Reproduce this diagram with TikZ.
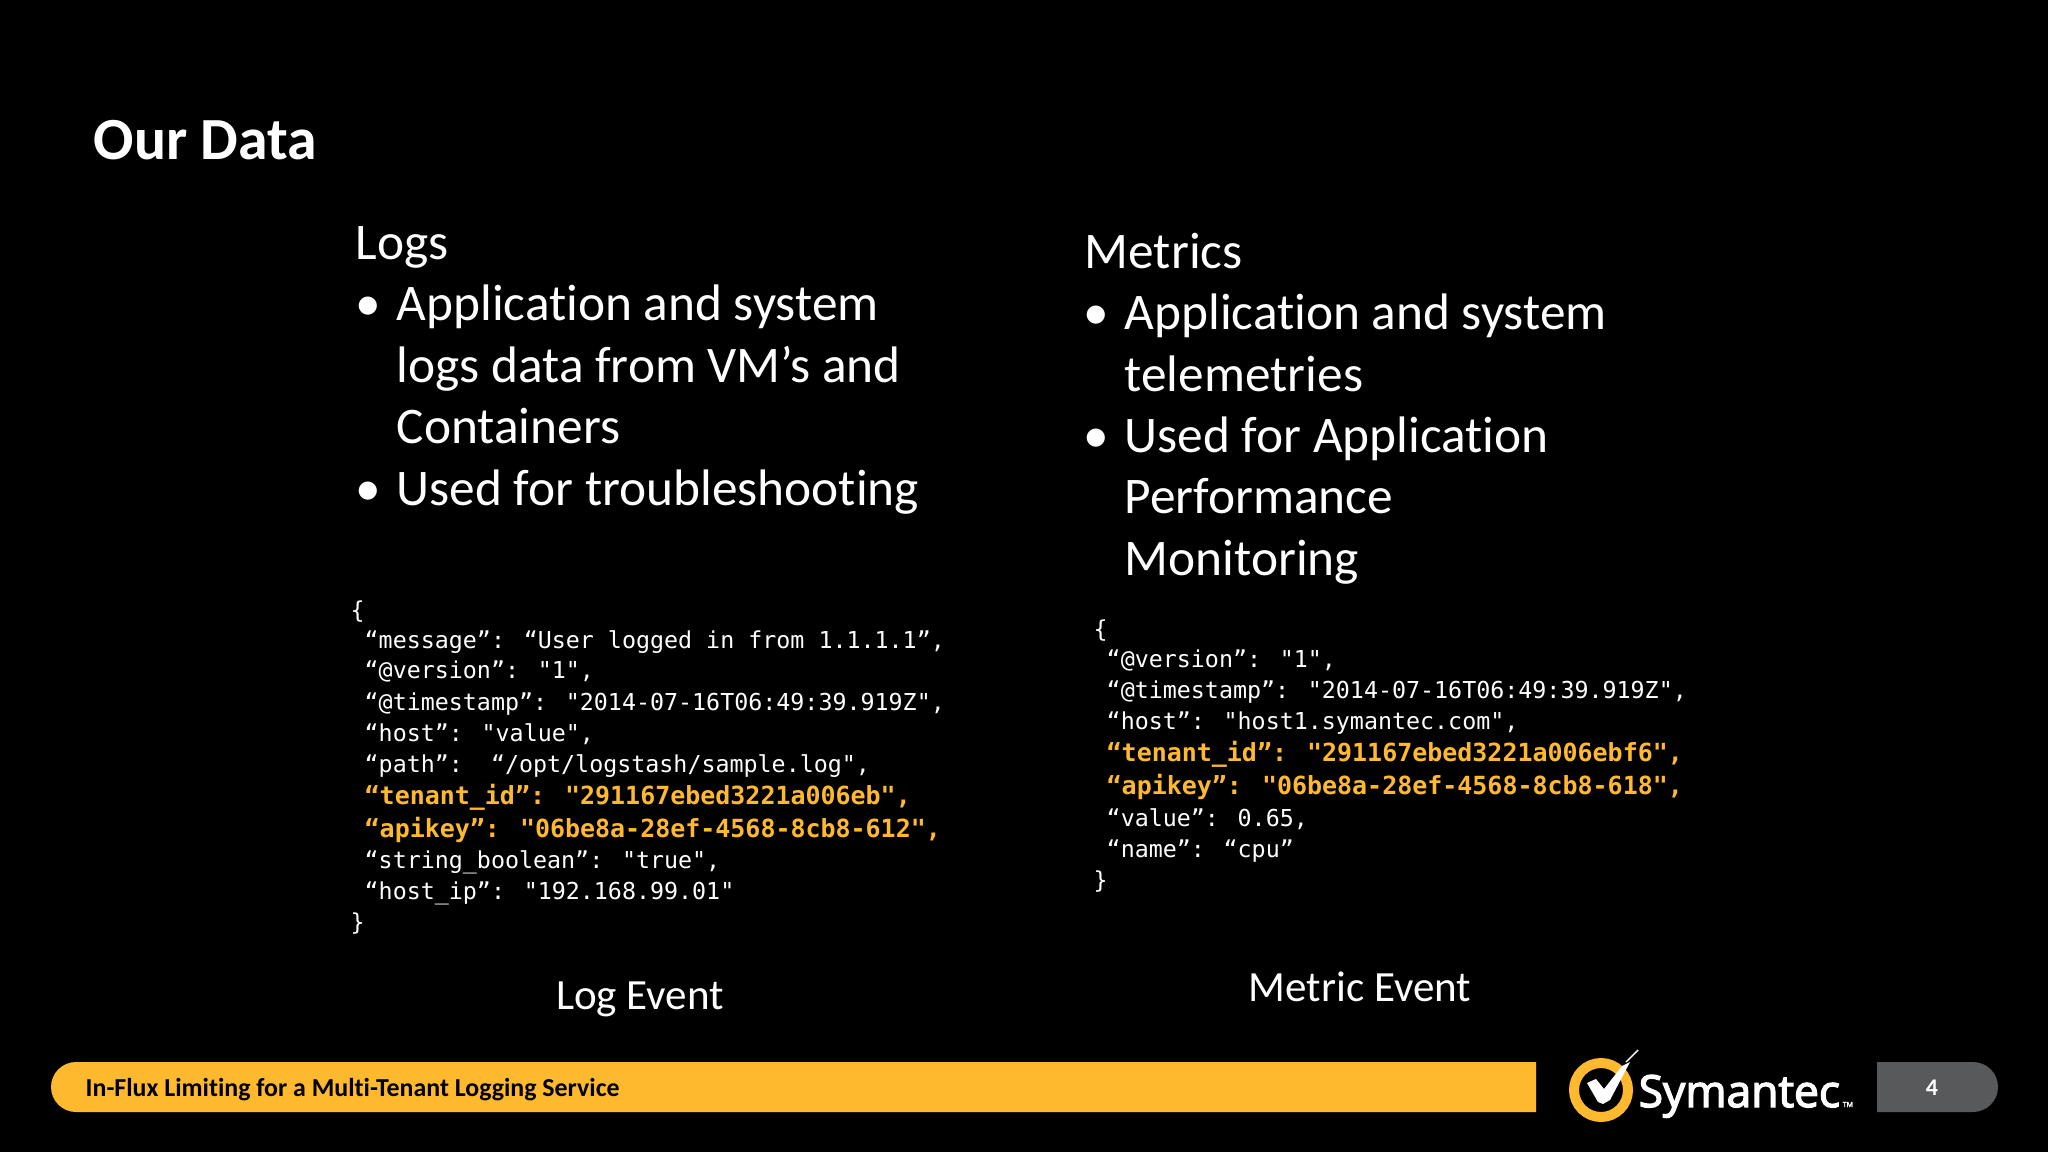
\documentclass[tikz,border=0pt]{standalone}
\usepackage{fontspec}
\setmainfont{Carlito}[Ligatures=NoCommon]
\newfontfamily\codefont{DejaVu Sans Mono}
\newfontfamily\logofont[FakeBold=3]{Open Sans}
\usetikzlibrary{positioning}
\definecolor{myyellow}{HTML}{FFB92F}
\definecolor{mygray}{HTML}{58595B}
\tikzset{
	bodytext/.style={anchor=base west,inner sep=0pt,text=white,font=\fontsize{14.6}{17}\selectfont},
	codetext/.style={anchor=base west,inner sep=0pt,text=white,font=\codefont\fontsize{6.63}{8}\selectfont},
	keytext/.style={codetext,text=myyellow,font=\codefont\bfseries\fontsize{7.1}{8}\selectfont},
	captiontext/.style={anchor=base,inner sep=0pt,text=white,font=\fontsize{12.25}{14}\selectfont},
}
\begin{document}
\begin{tikzpicture}[x=0.01cm,y=-0.01cm]
	\fill [black] (0,0) rectangle (2048,1152);
	\useasboundingbox (0,0) rectangle (2048,1152);
	\node [anchor=base west,inner sep=0pt,text=white,font=\bfseries\fontsize{17}{20}\selectfont] (title) at (93,160) {Our Data};
	% logs column
	\node [bodytext] (logs) at (355,260) {Logs};
	\node [bodytext] (logsb) at (355,321) {•};
	\node [bodytext] (logsa) at (396,321) {Application and system};
	\node [bodytext] (logsc) at (396,383) {logs data from VM’s and};
	\node [bodytext] (logsd) at (396,444) {Containers};
	\node [bodytext] (logse) at (355,505) {•};
	\node [bodytext] (logsf) at (396,505) {Used for troubleshooting};
	% metrics column
	\node [bodytext] (metrics) at (1084,269) {Metrics};
	\node [bodytext] (metb) at (1083,330) {•};
	\node [bodytext] (meta) at (1124,330) {Application and system};
	\node [bodytext] (metc) at (1124,392) {telemetries};
	\node [bodytext] (mete) at (1083,453) {•};
	\node [bodytext] (metf) at (1124,453) {Used for Application};
	\node [bodytext] (metg) at (1124,514) {Performance};
	\node [bodytext] (meth) at (1124,576) {Monitoring};
	% log event
	\node [codetext] (loga) at (350,618) {\{};
	\node [codetext] (logb) at (364,648) {“message”: “User logged in from 1.1.1.1”,};
	\node [codetext] (logc) at (364,679) {“@version”: "1",};
	\node [codetext] (logd) at (364,710) {“@timestamp”: "2014-07-16T06:49:39.919Z",};
	\node [codetext] (loge) at (364,741) {“host”: "value",};
	\node [codetext] (logf) at (364,772) {“path”:~~“/opt/logstash/sample.log",};
	\node [keytext] (logg) at (364,804) {“tenant\_id”: "291167ebed3221a006eb",};
	\node [keytext] (logh) at (364,837) {“apikey”: "06be8a-28ef-4568-8cb8-612",};
	\node [codetext] (logi) at (364,868) {“string\_boolean”: "true",};
	\node [codetext] (logj) at (364,899) {“host\_ip”: "192.168.99.01"};
	\node [codetext] (logk) at (350,930) {\}};
	\node [captiontext] (logcap) at (640,1009) {Log Event};
	% metric event
	\node [codetext] (meva) at (1093,637) {\{};
	\node [codetext] (mevc) at (1106,667) {“@version”: "1",};
	\node [codetext] (mevd) at (1106,698) {“@timestamp”: "2014-07-16T06:49:39.919Z",};
	\node [codetext] (meve) at (1106,729) {“host”: "host1.symantec.com",};
	\node [keytext] (mevg) at (1106,761) {“tenant\_id”: "291167ebed3221a006ebf6",};
	\node [keytext] (mevh) at (1106,794) {“apikey”: "06be8a-28ef-4568-8cb8-618",};
	\node [codetext] (mevi) at (1106,826) {“value”: 0.65,};
	\node [codetext] (mevj) at (1106,857) {“name”: “cpu”};
	\node [codetext] (mevk) at (1093,888) {\}};
	\node [captiontext] (mevcap) at (1360,1001) {Metric Event};
	% footer
	\fill [myyellow] (1536,1062) [rounded corners=0.25cm] -- (51,1062) -- (51,1112) [sharp corners] -- (1536,1112) -- cycle;
	\node [anchor=base west,inner sep=0pt,font=\bfseries\fontsize{7.36}{8}\selectfont] (footer) at (85,1096) {In-Flux Limiting for a Multi-Tenant Logging Service};
	\fill [mygray] (1877,1062) [rounded corners=0.25cm] -- (1998,1062) -- (1998,1112) [sharp corners] -- (1877,1112) -- cycle;
	\node [anchor=base,inner sep=0pt,text=white,font=\bfseries\fontsize{6.8}{8}\selectfont] (pageno) at (1932,1095) {4};
	% logo
	\draw [myyellow,line width=0.1cm] (1601,1090) circle (27);
	\fill [white] (1587,1083) -- (1596,1079) -- (1604,1089) -- (1622,1066) -- (1630,1062) -- (1610,1100) -- (1603,1104) -- (1598,1102) -- cycle;
	\draw [white,thin] (1626,1062) -- (1638,1050);
	\node [anchor=base west,inner sep=0pt,text=white,font=\logofont\fontsize{12.6}{14}\selectfont] (logo) at (1638,1107) {Symantec};
	\node [anchor=base west,inner sep=0pt,text=white,font=\logofont\fontsize{2}{3}\selectfont] (logotm) at (1842,1107) {TM};
\end{tikzpicture}
\end{document}
